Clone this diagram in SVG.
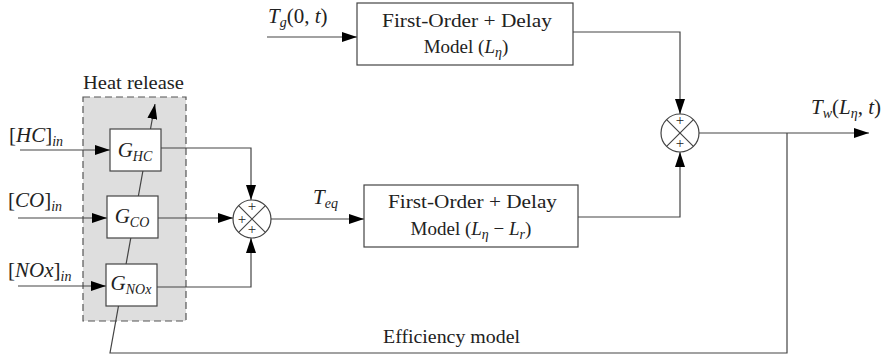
<svg xmlns="http://www.w3.org/2000/svg" width="885" height="361" viewBox="0 0 885 361">
<defs>
<marker id="arr" markerUnits="userSpaceOnUse" markerWidth="15" markerHeight="10" refX="15" refY="5" orient="auto"><path d="M0,0 L15,5 L0,10 z" fill="#000"/></marker>
<style>
.ln{fill:none;stroke:#444;stroke-width:1.2}
.box{fill:#fff;stroke:#444;stroke-width:1.2}
.t{font-family:"Liberation Serif","Times New Roman",serif;font-size:19px;fill:#222}
.m{font-family:"Liberation Serif","Times New Roman",serif;font-style:italic;font-size:21px;fill:#222}
.u{font-style:normal}
.s{font-size:14px}
.p{font-family:"Liberation Serif",serif;font-size:15px;fill:#222;text-anchor:middle}
</style>
</defs>
<rect width="885" height="361" fill="#fff"/>
<g id="heat-release">
<rect x="83" y="97" width="103" height="224" fill="#dedede" stroke="#555" stroke-width="1.2" stroke-dasharray="7,4"/>
<text class="t" x="83" y="89" textLength="101" lengthAdjust="spacingAndGlyphs">Heat release</text>
</g>
<g id="connectors">
<path class="ln" d="M787,133 V353 H110 L155,104" marker-end="url(#arr)"/>
<path class="ln" d="M20,150 H110" marker-end="url(#arr)"/>
<path class="ln" d="M18,218 H107" marker-end="url(#arr)"/>
<path class="ln" d="M18,286 H106" marker-end="url(#arr)"/>
<path class="ln" d="M161,148 H251 V200" marker-end="url(#arr)"/>
<path class="ln" d="M158,218 H233" marker-end="url(#arr)"/>
<path class="ln" d="M157,287 H251 V238" marker-end="url(#arr)"/>
<path class="ln" d="M271,219 H364" marker-end="url(#arr)"/>
<path class="ln" d="M267,37 H357" marker-end="url(#arr)"/>
<path class="ln" d="M573,32 H680 V114" marker-end="url(#arr)"/>
<path class="ln" d="M578,217 H680 V152" marker-end="url(#arr)"/>
<path class="ln" d="M699,133 H869" marker-end="url(#arr)"/>
</g>
<g id="labels">
<text class="m" x="9" y="142"><tspan class="u">[</tspan>HC<tspan class="u">]</tspan><tspan class="s" dy="4">in</tspan></text>
<text class="m" x="8" y="207"><tspan class="u">[</tspan>CO<tspan class="u">]</tspan><tspan class="s" dy="4">in</tspan></text>
<text class="m" x="8" y="277"><tspan class="u">[</tspan>NOx<tspan class="u">]</tspan><tspan class="s" dy="4">in</tspan></text>
<text class="m" x="268" y="23">T<tspan class="s" dy="4">g</tspan><tspan class="u" dy="-4">(0, </tspan>t<tspan class="u">)</tspan></text>
<text class="m" x="313" y="204">T<tspan class="s" dy="4">eq</tspan></text>
<text class="m" x="811" y="114">T<tspan class="s" dy="4">w</tspan><tspan class="u" dy="-4">(</tspan>L<tspan class="s" dy="4">η</tspan><tspan dy="-4" class="u">, </tspan>t<tspan class="u">)</tspan></text>
<text class="t" x="383" y="343" textLength="137" lengthAdjust="spacingAndGlyphs">Efficiency model</text>
</g>
<g id="g-hc">
<rect class="box" x="110" y="129" width="51" height="42"/>
<text class="m" x="135" y="157" text-anchor="middle">G<tspan class="s" dy="4">HC</tspan></text>
</g>
<g id="g-co">
<rect class="box" x="107" y="196" width="51" height="42"/>
<text class="m" x="132" y="223" text-anchor="middle">G<tspan class="s" dy="4">CO</tspan></text>
</g>
<g id="g-nox">
<rect class="box" x="106" y="264" width="51" height="42"/>
<text class="m" x="131" y="290" text-anchor="middle">G<tspan class="s" dy="4">NOx</tspan></text>
</g>
<g id="sum1">
<circle class="box" cx="252" cy="219" r="19"/>
<path class="ln" d="M238.6,205.6 L265.4,232.4 M265.4,205.6 L238.6,232.4"/>
<text class="p" x="252" y="211">+</text>
<text class="p" x="242" y="224">+</text>
<text class="p" x="252" y="234">+</text>
</g>
<g id="sum2">
<circle class="box" cx="680" cy="133" r="19"/>
<path class="ln" d="M666.6,119.6 L693.4,146.4 M693.4,119.6 L666.6,146.4"/>
<text class="p" x="680" y="125">+</text>
<text class="p" x="680" y="148">+</text>
</g>
<g id="model1">
<rect class="box" x="357" y="3" width="216" height="62"/>
<text class="t" x="382" y="27" font-size="20" textLength="170" lengthAdjust="spacingAndGlyphs">First-Order + Delay</text>
<text class="t" x="466" y="53" text-anchor="middle" font-size="21">Model (<tspan font-style="italic">L</tspan><tspan font-style="italic" font-size="14" dy="4">η</tspan><tspan dy="-4">)</tspan></text>
</g>
<g id="model2">
<rect class="box" x="364" y="185" width="214" height="62"/>
<text class="t" x="388" y="208" font-size="20" textLength="169" lengthAdjust="spacingAndGlyphs">First-Order + Delay</text>
<text class="t" x="471" y="235" text-anchor="middle" font-size="21">Model (<tspan font-style="italic">L</tspan><tspan font-style="italic" font-size="14" dy="4">η</tspan><tspan dy="-4"> − </tspan><tspan font-style="italic">L</tspan><tspan font-style="italic" font-size="14" dy="4">r</tspan><tspan dy="-4">)</tspan></text>
</g>
</svg>
